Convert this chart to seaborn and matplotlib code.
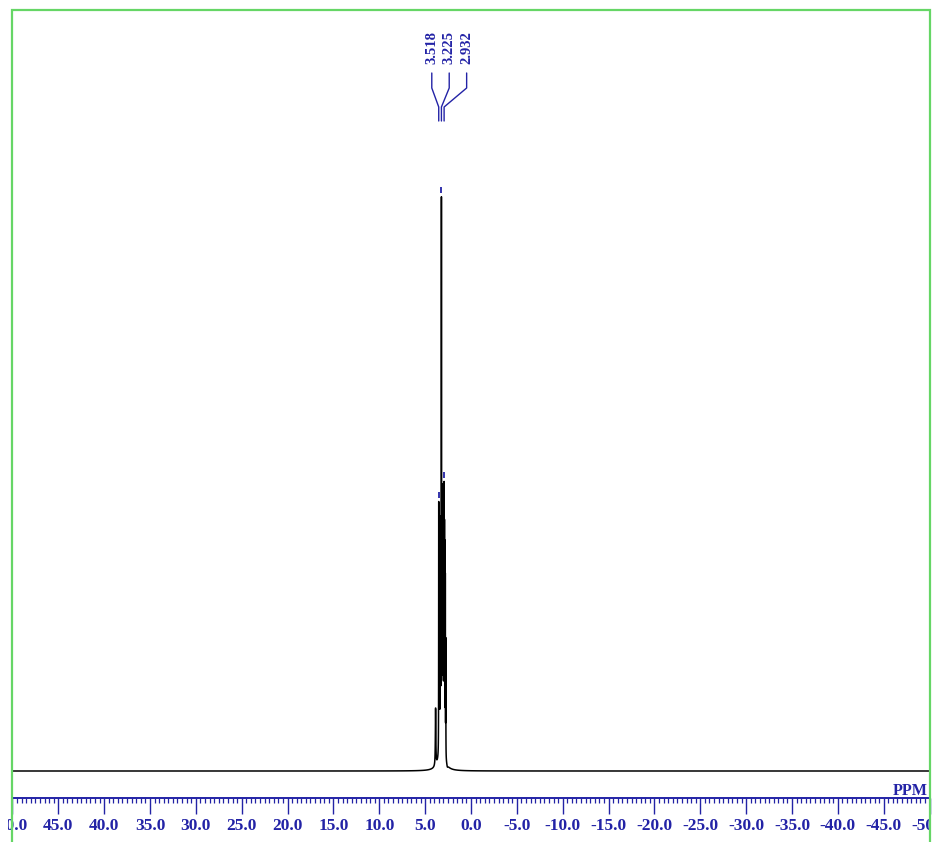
import numpy as np
import pandas as pd
import matplotlib
matplotlib.use("Agg")
import matplotlib.pyplot as plt
import seaborn as sns
from matplotlib.patches import Rectangle
from matplotlib.ticker import MultipleLocator, FuncFormatter
from matplotlib.transforms import Bbox, TransformedBbox

# ---- spectrum parameters (chemical shift in ppm, relative intensity) ----
peak_ppm = [3.518, 3.225, 2.932]          # picked peaks
peak_height = [43.0, 90.5, 43.0]
peak_width = [0.010, 0.010, 0.010]

# unresolved fine structure inside the multiplet
fine_ppm = [3.46, 3.41, 3.35, 3.30, 3.17, 3.12, 3.07, 3.03, 2.98, 2.89, 2.85, 2.80, 2.75]
fine_height = [30.0, 26.0, 30.0, 35.0, 38.0, 35.0, 37.0, 40.0, 38.0, 36.0, 34.0, 30.0, 20.0]
fine_width = [0.009] * len(fine_ppm)

# broad foot, small shoulder and the dip right of the multiplet
foot_ppm = [3.20, 3.86, 2.58]
foot_height = [7.0, 10.0, -0.5]
foot_width = [0.24, 0.03, 0.08]

ppm_min, ppm_max = -50.0, 50.0
major_step, minor_step = 5.0, 0.5

BLUE = "#2323a6"
GREEN = "#66d666"
W, H, DPI = 935, 842, 100


def lorentz(x, x0, h, g):
    return h * g * g / ((x - x0) ** 2 + g * g)


grid = np.concatenate([
    np.linspace(ppm_max, 4.6, 3000),
    np.linspace(4.6, 2.0, 30000),
    np.linspace(2.0, ppm_min, 3000),
])
intensity = np.zeros_like(grid)
for c, h, g in zip(peak_ppm + fine_ppm + foot_ppm,
                   peak_height + fine_height + foot_height,
                   peak_width + fine_width + foot_width):
    intensity += lorentz(grid, c, h, g)

spec = pd.DataFrame({"ppm": grid, "intensity": intensity})

sns.set_style("white")
plt.rcParams["path.simplify"] = False
plt.rcParams["font.family"] = ["Liberation Serif", "DejaVu Serif"]

fig = plt.figure(figsize=(W / DPI, H / DPI), dpi=DPI)
ax_left, ax_right = 12.4, 929.6
ax_top, ax_bottom = 10.0, 798.0
ax = fig.add_axes([ax_left / W, 1 - ax_bottom / H,
                   (ax_right - ax_left) / W, (ax_bottom - ax_top) / H])

sns.lineplot(data=spec, x="ppm", y="intensity", estimator=None, sort=False,
             color="black", linewidth=1.1, ax=ax)

px_per_unit = 5.75
base_px = 771.0
y_lo = -(ax_bottom - base_px) / px_per_unit
y_hi = y_lo + (ax_bottom - ax_top) / px_per_unit
ax.set_xlim(ppm_max, ppm_min)
ax.set_ylim(y_lo, y_hi)
ax.set_xlabel("")
ax.set_ylabel("")
ax.set_yticks([])

for side in ("left", "right", "top"):
    ax.spines[side].set_visible(False)
ax.spines["bottom"].set_color(BLUE)
ax.spines["bottom"].set_linewidth(1.4)

ax.xaxis.set_major_locator(MultipleLocator(major_step))
ax.xaxis.set_minor_locator(MultipleLocator(minor_step))
ax.xaxis.set_major_formatter(FuncFormatter(lambda v, p: f"{v + 0.0:.1f}"))
ax.tick_params(axis="x", which="both", bottom=True, top=False)
ax.tick_params(axis="x", which="major", direction="out", length=11.5, width=1.0,
               color=BLUE, labelcolor=BLUE, labelsize=12.5, pad=3.0)
ax.tick_params(axis="x", which="minor", direction="out", length=3.8, width=0.9,
               color=BLUE)
for lbl in ax.get_xticklabels():
    lbl.set_fontweight("bold")

# markers above each picked peak
xa = ax.get_xaxis_transform()
peak_tops = [float(np.interp(p, grid[::-1], intensity[::-1])) for p in peak_ppm]
ax.vlines(peak_ppm, [t + 0.6 for t in peak_tops], [t + 1.7 for t in peak_tops],
          color=BLUE, linewidth=1.3)


def frac(ypx):
    return (ax_bottom - ypx) / (ax_bottom - ax_top)


# peak labels with connecting bracket
label_gap, label_shift = 1.9, -0.85
centre = peak_ppm[1] + label_shift
label_x = [centre + label_gap, centre, centre - label_gap]
for lx, p in zip(label_x, peak_ppm):
    ax.text(lx, frac(64), f"{p:.3f}", rotation=90, ha="center", va="bottom",
            transform=xa, fontsize=10.5, fontweight="bold", color=BLUE)
    ax.plot([lx, lx, p, p], [frac(73), frac(88), frac(107), frac(121)],
            transform=xa, color=BLUE, linewidth=1.0, clip_on=False)

fig.text(928 / W, 1 - 795 / H, "PPM", ha="right", va="baseline",
         fontsize=11.5, fontweight="bold", color=BLUE)

fig.patches.append(Rectangle((12 / W, -0.1), (930 - 12) / W, 1 - 10 / H + 0.1,
                             transform=fig.transFigure, fill=False,
                             edgecolor=GREEN, linewidth=1.6, zorder=5))

fig.canvas.draw()
clip = TransformedBbox(Bbox([[8 / W, 0], [930 / W, 1]]), fig.transFigure)
for lbl in ax.get_xticklabels():
    lbl.set_clip_box(clip)
    lbl.set_clip_on(True)

fig.savefig("out.png", dpi=DPI, facecolor="white")
